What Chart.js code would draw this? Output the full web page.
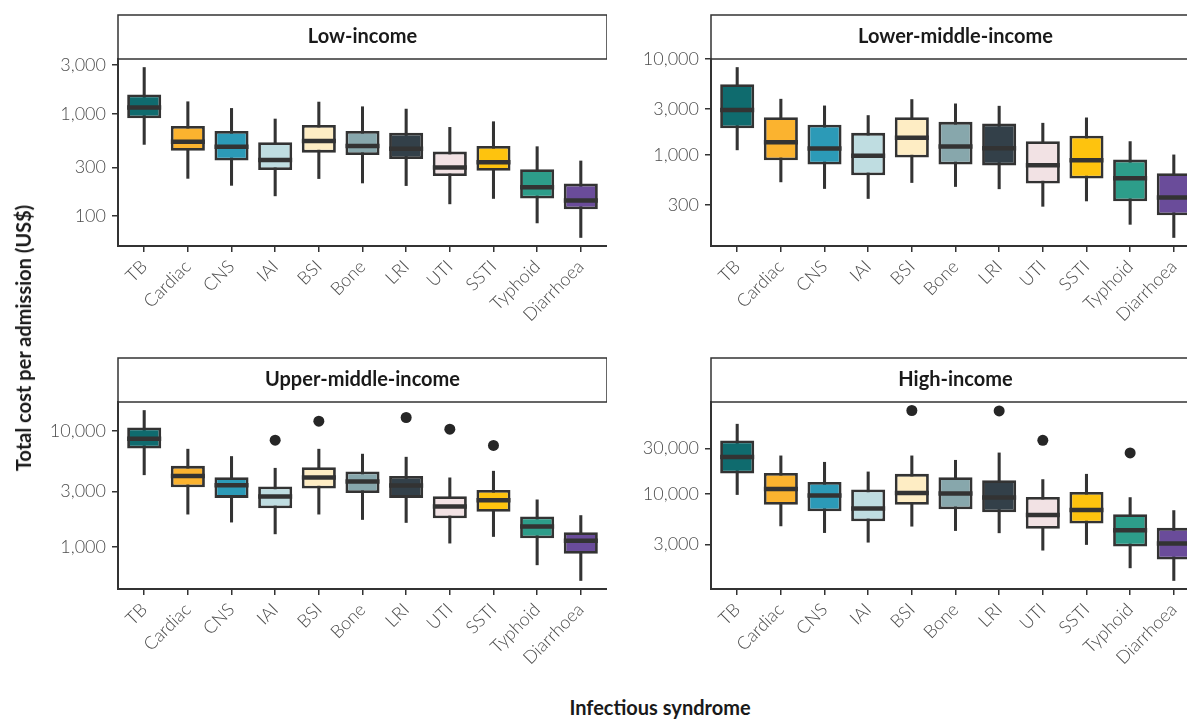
<!DOCTYPE html>
<html>
<head>
<meta charset="utf-8">
<title>Total cost per admission by infectious syndrome</title>
<script src="https://cdn.jsdelivr.net/npm/chart.js@4.4.1/dist/chart.umd.min.js"></script>
<style>
  html, body { margin: 0; padding: 0; background: #fff; overflow: hidden; }
  body { width: 1187px; height: 720px; position: relative; font-family: Lato, sans-serif; }
  canvas { position: absolute; }
  .axis-title { position: absolute; font-weight: bold; font-size: 20px; color: #1a1a1a; white-space: nowrap; }
  #ytitle { left: 23px; top: 338px; transform: translate(-50%, -50%) rotate(-90deg); }
  #xtitle { left: 660px; top: 707px; transform: translate(-50%, -50%); }
</style>
</head>
<body>
<canvas id="low" width="607" height="345" style="left:0;top:0"></canvas>
<canvas id="lowerMiddle" width="600" height="345" style="left:600px;top:0"></canvas>
<canvas id="upperMiddle" width="607" height="345" style="left:0;top:345px"></canvas>
<canvas id="high" width="600" height="345" style="left:600px;top:345px"></canvas>
<div id="ytitle" class="axis-title">Total cost per admission (US$)</div>
<div id="xtitle" class="axis-title">Infectious syndrome</div>

<script>
const syndromes = ["TB", "Cardiac", "CNS", "IAI", "BSI", "Bone", "LRI", "UTI", "SSTI", "Typhoid", "Diarrhoea"];

// five-number summaries per syndrome: [lower whisker, Q1, median, Q3, upper whisker]
const lowIncome = [
  [502, 901, 1153, 1542, 2825], [234, 436, 534, 759, 1309], [200, 349, 477, 678, 1127],
  [158, 282, 354, 526, 888], [233, 417, 542, 776, 1300], [211, 395, 484, 678, 1170],
  [199, 362, 456, 653, 1110], [132, 247, 298, 427, 736], [149, 277, 336, 484, 836],
  [86, 149, 192, 287, 477], [62, 117, 142, 208, 346]
];
const lowerMiddleIncome = [
  [1128, 1900, 2952, 5480, 8185], [522, 879, 1355, 2478, 3819], [445, 792, 1164, 2061, 3251],
  [350, 612, 977, 1698, 2578], [514, 937, 1506, 2478, 3788], [467, 792, 1222, 2213, 3414],
  [442, 775, 1175, 2128, 3228], [290, 501, 780, 1390, 2143], [330, 566, 879, 1582, 2438],
  [188, 328, 570, 893, 1377], [137, 234, 358, 643, 1000]
];
const upperMiddleIncome = [
  [4180, 7040, 8530, 10680, 14970], [1914, 3265, 4090, 4990, 6950], [1634, 2642, 3404, 3990, 6010],
  [1294, 2152, 2716, 3310, 4760], [1914, 3185, 3960, 4860, 6950], [1721, 2905, 3660, 4460, 6300],
  [1622, 2642, 3380, 4090, 5930], [1077, 1767, 2229, 2735, 3935], [1228, 2003, 2524, 3096, 4490],
  [700, 1188, 1496, 1825, 2543], [513, 871, 1127, 1337, 1862]
];
const highIncome = [
  [9920, 16430, 24530, 36380, 53950], [4665, 7740, 11370, 16700, 25170], [3970, 6640, 9690, 13450, 21580],
  [3150, 5220, 7080, 11190, 17110], [4630, 7740, 10330, 16320, 25170], [4170, 6960, 10160, 15060, 22640],
  [3950, 6490, 9230, 14000, 27030], [2600, 4350, 6080, 9380, 14230], [2980, 4930, 6850, 10580, 16180],
  [1700, 2840, 4205, 6180, 9230], [1254, 2075, 3050, 4450, 6750]
];

// outliers, one per syndrome (null = none)
const lowIncomeOutliers = [null, null, null, null, null, null, null, null, null, null, null];
const lowerMiddleOutliers = [null, null, null, null, null, null, null, null, null, null, null];
const upperMiddleOutliers = [null, null, null, 8310, 12110, null, 13030, 10330, 7480, null, null];
const highOutliers = [null, null, null, null, 75000, null, 74300, 36640, null, 27030, null];

const lowTicks = [100, 300, 1000, 3000];
const lowerMiddleTicks = [300, 1000, 3000, 10000];
const upperMiddleTicks = [1000, 3000, 10000];
const highTicks = [3000, 10000, 30000];

const boxColours = ["#0f6b6e", "#fbb32f", "#2c9ab7", "#bfdde1", "#feedc4", "#87a7ac",
                    "#334049", "#f2e2e4", "#fec30e", "#2d9d8a", "#6a4c9a"];

const ink = "#333333";
const tickFont = { family: "Lato", size: 18, weight: "300" };

const stripPlugin = {
  id: "strip",
  beforeDraw(chart) {
    const { ctx, chartArea } = chart;
    const h = 44;
    ctx.save();
    ctx.fillStyle = "#fff";
    ctx.strokeStyle = ink;
    ctx.lineWidth = 1.5;
    ctx.fillRect(chartArea.left, chartArea.top - h, chartArea.right - chartArea.left, h);
    ctx.strokeRect(chartArea.left, chartArea.top - h, chartArea.right - chartArea.left, h);
    ctx.restore();
  }
};

function makePanel(id, title, stats, outliers, ticks, topPad, yWidth, xHeight) {
  // log limits with 5% expansion like the original
  const allVals = stats.flat().concat(outliers.filter(v => v !== null));
  const lo = Math.log10(Math.min(...allVals));
  const hi = Math.log10(Math.max(...allVals));
  const pad = (hi - lo) * 0.05;

  const outlierPoints = [];
  outliers.forEach((v, i) => { if (v !== null) outlierPoints.push({ x: i, y: v }); });

  new Chart(document.getElementById(id), {
    type: "bar",
    data: {
      datasets: [
        {
          type: "scatter",
          data: stats.map((s, i) => ({ x: i, y: s[2] })),
          pointStyle: "line",
          pointRadius: 17,
          pointBorderWidth: 4.5,
          pointBorderColor: ink,
          pointBackgroundColor: ink,
          order: 0
        },
        {
          type: "scatter",
          data: outlierPoints,
          pointStyle: "circle",
          pointRadius: 5.5,
          pointBorderWidth: 0,
          pointBackgroundColor: "#262626",
          pointBorderColor: "#262626",
          order: 0
        },
        {
          type: "bar",
          data: stats.map((s, i) => ({ x: i, y: [s[1], s[3]] })),
          backgroundColor: boxColours,
          borderColor: ink,
          borderWidth: 2.8,
          borderSkipped: false,
          grouped: false,
          categoryPercentage: 1,
          barPercentage: 0.78,
          order: 1
        },
        {
          type: "bar",
          data: stats.map((s, i) => ({ x: i, y: [s[0], s[4]] })),
          backgroundColor: ink,
          barThickness: 2.4,
          grouped: false,
          order: 2
        }
      ]
    },
    options: {
      responsive: false,
      animation: false,
      events: [],
      layout: { autoPadding: false, padding: { top: topPad, left: 0, right: 0, bottom: 0 } },
      plugins: {
        legend: { display: false },
        tooltip: { enabled: false },
        colors: { enabled: false },
        title: {
          display: true,
          text: title,
          fullSize: false,
          color: "#1a1a1a",
          font: { family: "Lato", size: 20, weight: "bold", lineHeight: 1.2 },
          padding: { top: 10, bottom: 10 }
        }
      },
      scales: {
        x: {
          type: "linear",
          offset: false,
          min: -0.6,
          max: syndromes.length - 0.4,
          afterBuildTicks: s => { s.ticks = syndromes.map((n, i) => ({ value: i })); },
          afterFit: s => { s.height = xHeight; s.paddingLeft = 0; s.paddingRight = 0; },
          ticks: {
            callback: v => syndromes[v],
            autoSkip: false,
            minRotation: 45,
            maxRotation: 45,
            padding: 4,
            color: "#4d4d4d",
            font: tickFont
          },
          grid: { display: true, offset: false, drawOnChartArea: false, drawTicks: true, tickLength: 6, color: ink, lineWidth: 1.5 },
          border: { display: true, color: ink, width: 2 }
        },
        y: {
          type: "logarithmic",
          min: Math.pow(10, lo - pad),
          max: Math.pow(10, hi + pad),
          afterBuildTicks: s => { s.ticks = ticks.map(v => ({ value: v })); },
          afterFit: s => { s.width = yWidth; },
          ticks: {
            callback: v => v.toLocaleString("en-US"),
            padding: 6,
            color: "#4d4d4d",
            font: tickFont
          },
          grid: { display: true, drawOnChartArea: false, drawTicks: true, tickLength: 6, color: ink, lineWidth: 1.5 },
          border: { display: true, color: ink, width: 2 }
        }
      }
    },
    plugins: [stripPlugin]
  });
}

makePanel("low", "Low-income", lowIncome, lowIncomeOutliers, lowTicks, 15, 118, 99);
makePanel("lowerMiddle", "Lower-middle-income", lowerMiddleIncome, lowerMiddleOutliers, lowerMiddleTicks, 15, 111, 99);
makePanel("upperMiddle", "Upper-middle-income", upperMiddleIncome, upperMiddleOutliers, upperMiddleTicks, 13, 118, 101);
makePanel("high", "High-income", highIncome, highOutliers, highTicks, 13, 111, 101);
</script>
</body>
</html>
